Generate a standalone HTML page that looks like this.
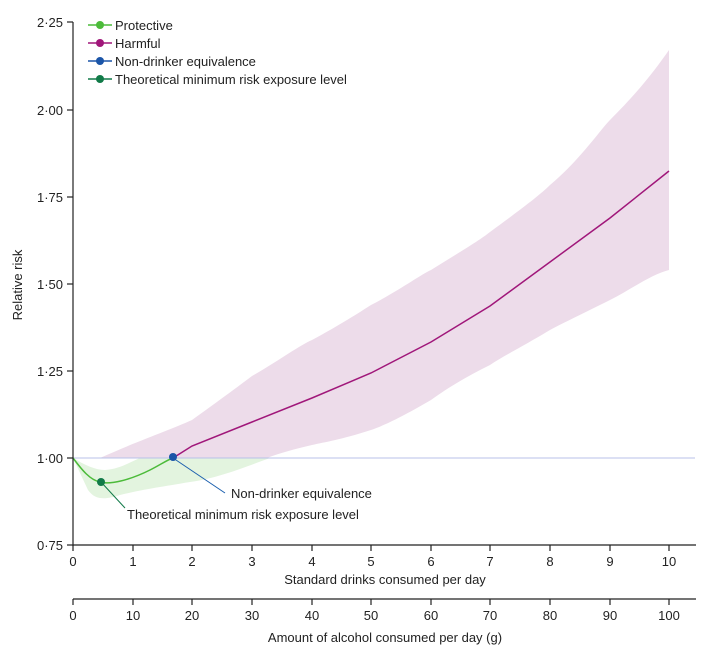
<!DOCTYPE html>
<html><head><style>
body{margin:0;background:#fff}
svg text{font-family:"Liberation Sans",sans-serif;fill:#222}
</style></head><body>
<svg width="708" height="662" viewBox="0 0 708 662" xmlns="http://www.w3.org/2000/svg">
<!-- green band -->
<path d="M73,458 C85,465 95,470 105,470 C120,469 130,462 140,458 L270,458 C250,465 220,478 190,482 C160,487 140,490 120,495 C105,500 95,500 88,490 Z" fill="#e3f4df"/>
<!-- purple band -->
<path d="M100,458 C140,440 170,430 192,420 C220,400 240,385 252,376 C280,360 300,345 312,340 C340,325 360,312 371,305 C400,290 420,275 431,270 C460,252 480,240 490,232 C520,210 540,195 550,185 C580,160 600,130 610,120 C640,90 655,70 669,50 L669,270 C650,275 630,290 610,300 C580,315 565,322 550,330 C520,348 505,355 490,365 C460,380 445,390 431,400 C400,418 385,425 371,430 C340,440 325,442 312,445 C295,449 280,453 267,458 Z" fill="#eddcea"/>
<line x1="73" y1="458" x2="695" y2="458" stroke="#b8c0e8" stroke-width="1"/>
<!-- harmful line -->
<polyline points="173,458 192,446 252,422 312,398 371,373 431,342 490,306 550,262 610,218 669,171" fill="none" stroke="#a0177a" stroke-width="1.5"/>
<!-- protective -->
<path d="M73,458 C82,470 90,480 100,482 C110,485 130,480 150,470 C160,465 167,460 173,458" fill="none" stroke="#4cbb3a" stroke-width="1.5"/>
<!-- callouts -->
<line x1="101" y1="482" x2="125" y2="508" stroke="#117a48" stroke-width="1"/>
<line x1="173" y1="458" x2="225" y2="493" stroke="#1b5fae" stroke-width="1"/>
<circle cx="101" cy="482" r="4" fill="#117a48"/>
<circle cx="173" cy="457" r="4" fill="#1b55a8"/>
<text x="231" y="498" font-size="13">Non-drinker equivalence</text>
<text x="127" y="519" font-size="13">Theoretical minimum risk exposure level</text>
<!-- axes -->
<g stroke="#222" stroke-width="1.2" fill="none">
<line x1="73" y1="22" x2="73" y2="546"/>
<line x1="73" y1="545" x2="696" y2="545"/>
<line x1="73" y1="599" x2="696" y2="599"/>
<line x1="67" y1="22" x2="73" y2="22"/><line x1="67" y1="110" x2="73" y2="110"/><line x1="67" y1="197" x2="73" y2="197"/><line x1="67" y1="284" x2="73" y2="284"/><line x1="67" y1="371" x2="73" y2="371"/><line x1="67" y1="458" x2="73" y2="458"/><line x1="67" y1="545" x2="73" y2="545"/>
<path d="M73,545v6M133,545v6M192,545v6M252,545v6M312,545v6M371,545v6M431,545v6M490,545v6M550,545v6M610,545v6M669,545v6"/>
<path d="M73,599v6M133,599v6M192,599v6M252,599v6M312,599v6M371,599v6M431,599v6M490,599v6M550,599v6M610,599v6M669,599v6"/>
</g>
<g font-size="13" text-anchor="end">
<text x="63" y="27">2·25</text><text x="63" y="115">2·00</text><text x="63" y="202">1·75</text><text x="63" y="289">1·50</text><text x="63" y="376">1·25</text><text x="63" y="463">1·00</text><text x="63" y="550">0·75</text>
</g>
<g font-size="13" text-anchor="middle">
<text x="73" y="566">0</text><text x="133" y="566">1</text><text x="192" y="566">2</text><text x="252" y="566">3</text><text x="312" y="566">4</text><text x="371" y="566">5</text><text x="431" y="566">6</text><text x="490" y="566">7</text><text x="550" y="566">8</text><text x="610" y="566">9</text><text x="669" y="566">10</text>
<text x="73" y="620">0</text><text x="133" y="620">10</text><text x="192" y="620">20</text><text x="252" y="620">30</text><text x="312" y="620">40</text><text x="371" y="620">50</text><text x="431" y="620">60</text><text x="490" y="620">70</text><text x="550" y="620">80</text><text x="610" y="620">90</text><text x="669" y="620">100</text>
<text x="385" y="584">Standard drinks consumed per day</text>
<text x="385" y="642">Amount of alcohol consumed per day (g)</text>
</g>
<text transform="translate(22,285) rotate(-90)" font-size="13" text-anchor="middle">Relative risk</text>
<!-- legend -->
<g stroke-width="1.5">
<line x1="88" y1="25" x2="112" y2="25" stroke="#4cbb3a"/><circle cx="100" cy="25" r="4" fill="#4cbb3a"/>
<line x1="88" y1="43" x2="112" y2="43" stroke="#a0177a"/><circle cx="100" cy="43" r="4" fill="#a0177a"/>
<line x1="88" y1="61" x2="112" y2="61" stroke="#1b55a8"/><circle cx="100" cy="61" r="4" fill="#1b55a8"/>
<line x1="88" y1="79" x2="112" y2="79" stroke="#117a48"/><circle cx="100" cy="79" r="4" fill="#117a48"/>
</g>
<g font-size="13">
<text x="115" y="30">Protective</text><text x="115" y="48">Harmful</text><text x="115" y="66">Non-drinker equivalence</text><text x="115" y="84">Theoretical minimum risk exposure level</text>
</g>
</svg>
</body></html>
